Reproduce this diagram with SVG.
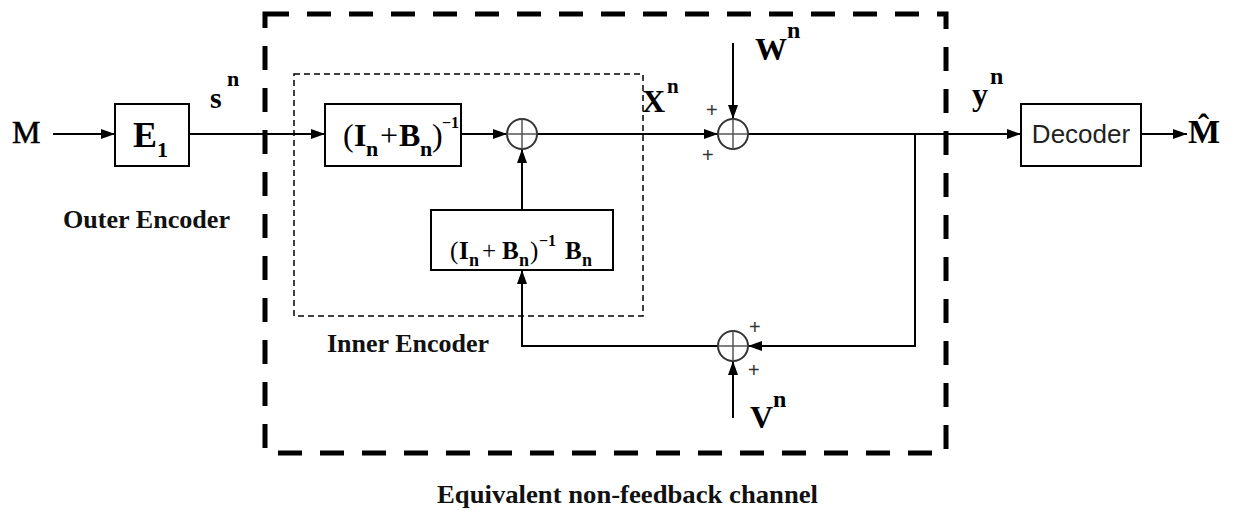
<svg xmlns="http://www.w3.org/2000/svg" width="1235" height="510" viewBox="0 0 1235 510">
<style>
.ln{stroke:#000;stroke-width:2;fill:none}
.box{fill:#fff;stroke:#000;stroke-width:2}
.sum{fill:none;stroke:#333;stroke-width:2}
.cr{stroke:#555;stroke-width:1.5}
.lbl{font-family:"Liberation Serif",serif;font-weight:bold;font-size:26px;fill:#111}
.m{font-family:"Liberation Serif",serif;font-weight:bold;fill:#000}
.r{font-weight:normal}
.pl{font-family:"Liberation Sans",sans-serif;font-size:20px;fill:#333}
.dec{font-family:"Liberation Sans",sans-serif;font-size:26px;fill:#222}
</style>
<defs>
<marker id="ah" viewBox="0 0 14 10" refX="14" refY="5" markerWidth="14" markerHeight="10" markerUnits="userSpaceOnUse" orient="auto"><path d="M0,0 L14,5 L0,10 z" fill="#000"/></marker>
</defs>
<rect id="channel-frame" x="265" y="14" width="681" height="439" fill="none" stroke="#000" stroke-width="5" stroke-dasharray="24 18"/>
<rect id="inner-frame" x="294" y="74" width="349" height="242" fill="none" stroke="#000" stroke-width="1.5" stroke-dasharray="6 4"/>
<g id="connectors">
<line class="ln" x1="53" y1="134" x2="115" y2="134" marker-end="url(#ah)"/>
<line class="ln" x1="189" y1="134" x2="325" y2="134" marker-end="url(#ah)"/>
<line class="ln" x1="461" y1="134" x2="507" y2="134" marker-end="url(#ah)"/>
<line class="ln" x1="537" y1="134" x2="718" y2="134" marker-end="url(#ah)"/>
<line class="ln" x1="748" y1="134" x2="1021" y2="134" marker-end="url(#ah)"/>
<line class="ln" x1="1141" y1="134" x2="1187" y2="134" marker-end="url(#ah)"/>
<line class="ln" x1="522" y1="210" x2="522" y2="149" marker-end="url(#ah)"/>
<line class="ln" x1="733" y1="43" x2="733" y2="119" marker-end="url(#ah)"/>
<line class="ln" x1="733" y1="418" x2="733" y2="361" marker-end="url(#ah)"/>
<polyline class="ln" points="915,134 915,346 748,346" marker-end="url(#ah)"/>
<polyline class="ln" points="718,346 522,346 522,270" marker-end="url(#ah)"/>
</g>
<g id="M-in"><text class="m r" x="12" y="143" font-size="32" stroke="#000" stroke-width="0.6">M</text></g>
<g id="E1">
<rect class="box" x="115" y="104" width="74" height="62"/>
<text class="m" x="133" y="147" font-size="36">E<tspan font-size="22" dy="10">1</tspan></text>
</g>
<g id="sn"><text class="m" x="210" y="108" font-size="30">s<tspan font-size="22" x="227" y="86">n</tspan></text></g>
<g id="outer-label"><text class="lbl" x="63" y="228" textLength="167" lengthAdjust="spacingAndGlyphs">Outer Encoder</text></g>
<g id="inv-block">
<rect class="box" x="325" y="104" width="136" height="62"/>
<text class="m" font-size="32"><tspan class="r" x="343" y="146">(</tspan><tspan x="354" y="146">I</tspan><tspan font-size="22" x="366" y="156">n</tspan><tspan class="r" x="380" y="146">+</tspan><tspan x="399" y="146">B</tspan><tspan font-size="22" x="420" y="156">n</tspan><tspan class="r" x="432" y="146">)</tspan><tspan font-size="16" x="442" y="128">−1</tspan></text>
</g>
<g id="sum1">
<circle class="sum" cx="522" cy="134" r="15"/>
<line class="cr" x1="507" y1="134" x2="537" y2="134"/><line class="cr" x1="522" y1="119" x2="522" y2="149"/>
</g>
<g id="fb-block">
<rect class="box" x="431" y="210" width="182" height="60"/>
<text class="m" font-size="25"><tspan class="r" x="450" y="259">(</tspan><tspan x="459" y="259">I</tspan><tspan font-size="18" x="469" y="266">n</tspan><tspan class="r" x="482" y="259">+</tspan><tspan x="502" y="259">B</tspan><tspan font-size="18" x="519" y="266">n</tspan><tspan class="r" x="530" y="259">)</tspan><tspan font-size="16" x="539" y="246">−1</tspan><tspan x="565" y="259">B</tspan><tspan font-size="18" x="582" y="266">n</tspan></text>
</g>
<g id="inner-label"><text class="lbl" x="327" y="352" textLength="162" lengthAdjust="spacingAndGlyphs">Inner Encoder</text></g>
<g id="xn"><text class="m" x="642" y="112" font-size="32">X<tspan font-size="21" x="667" y="93">n</tspan></text></g>
<g id="sum2">
<circle class="sum" cx="733" cy="134" r="15"/>
<line class="cr" x1="718" y1="134" x2="748" y2="134"/><line class="cr" x1="733" y1="119" x2="733" y2="149"/>
<text class="pl" x="706" y="117">+</text>
<text class="pl" x="702" y="162">+</text>
</g>
<g id="wn"><text class="m" x="755" y="60" font-size="32">W<tspan font-size="24" x="787" y="38">n</tspan></text></g>
<g id="sum3">
<circle class="sum" cx="733" cy="346" r="15"/>
<line class="cr" x1="718" y1="346" x2="748" y2="346"/><line class="cr" x1="733" y1="331" x2="733" y2="361"/>
<text class="pl" x="749" y="334">+</text>
<text class="pl" x="748" y="377">+</text>
</g>
<g id="vn"><text class="m" x="750" y="428" font-size="32">V<tspan font-size="24" x="773" y="407">n</tspan></text></g>
<g id="yn"><text class="m" x="972" y="105" font-size="32">y<tspan font-size="24" x="990" y="84">n</tspan></text></g>
<g id="decoder">
<rect class="box" x="1021" y="104" width="120" height="62"/>
<text class="dec" x="1081" y="143" text-anchor="middle">Decoder</text>
</g>
<g id="M-out"><text class="m" x="1188" y="143" font-size="34">M̂</text></g>
<g id="channel-label"><text class="lbl" x="437" y="503" textLength="381" lengthAdjust="spacingAndGlyphs">Equivalent  non-feedback channel</text></g>
</svg>
